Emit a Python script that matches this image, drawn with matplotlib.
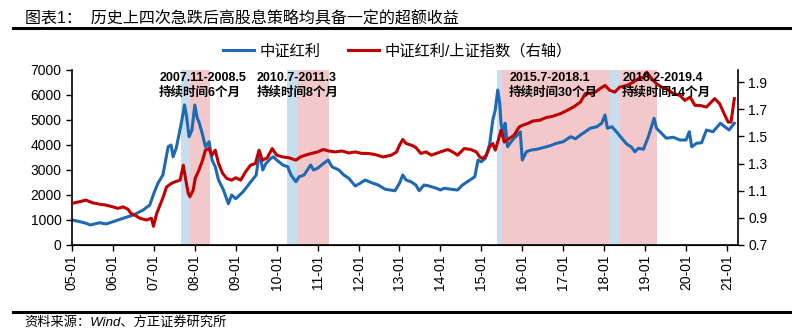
import matplotlib.pyplot as plt
from matplotlib import transforms

plt.rcParams['font.family'] = ['Liberation Sans', 'Noto Sans CJK SC']

# 中证红利 index (left axis), decimal years
div_t = [2005.00, 2005.20, 2005.34, 2005.45, 2005.67, 2005.83, 2006.00, 2006.25, 2006.50, 2006.74,
         2006.90, 2007.00, 2007.10, 2007.22, 2007.35, 2007.42, 2007.47, 2007.55, 2007.67, 2007.75,
         2007.80, 2007.86, 2007.93, 2008.00, 2008.06, 2008.10, 2008.18, 2008.26, 2008.35, 2008.42,
         2008.50, 2008.58, 2008.70, 2008.82, 2008.90, 2009.00, 2009.18, 2009.34, 2009.50, 2009.58,
         2009.66, 2009.74, 2009.86, 2009.92, 2010.00, 2010.15, 2010.27, 2010.35, 2010.47, 2010.55,
         2010.67, 2010.83, 2010.90, 2011.00, 2011.15, 2011.26, 2011.35, 2011.52, 2011.64, 2011.76,
         2011.92, 2012.04, 2012.16, 2012.32, 2012.48, 2012.65, 2012.89, 2013.00, 2013.08, 2013.16,
         2013.28, 2013.40, 2013.48, 2013.60, 2013.72, 2013.90, 2014.00, 2014.10, 2014.26, 2014.42,
         2014.54, 2014.66, 2014.84, 2014.92, 2015.00, 2015.10, 2015.20, 2015.28, 2015.34, 2015.40,
         2015.45, 2015.48, 2015.55, 2015.58, 2015.64, 2015.76, 2015.88, 2015.95, 2016.00, 2016.10,
         2016.22, 2016.36, 2016.52, 2016.68, 2016.84, 2017.00, 2017.18, 2017.30, 2017.42, 2017.54,
         2017.66, 2017.82, 2017.94, 2018.02, 2018.08, 2018.19, 2018.30, 2018.43, 2018.55, 2018.67,
         2018.75, 2018.84, 2018.96, 2019.08, 2019.22, 2019.28, 2019.40, 2019.52, 2019.69, 2019.85,
         2020.00, 2020.08, 2020.14, 2020.26, 2020.38, 2020.50, 2020.66, 2020.84, 2020.95, 2021.05,
         2021.18]
div_idx = [1000, 930, 870, 800, 890, 840, 930, 1070, 1200, 1400,
           1600, 2070, 2470, 2800, 3930, 4000, 3530, 3900, 4870, 5600,
           5130, 4330, 4600, 5600, 5070, 4930, 4470, 3930, 4130, 3400,
           3130, 2600, 2200, 1650, 2000, 1850, 2130, 2470, 2800, 3730,
           3000, 3270, 3470, 3530, 3400, 3200, 3130, 2800, 2530, 2730,
           2800, 3200, 3000, 3070, 3270, 3400, 3130, 3000, 2800, 2670,
           2360, 2470, 2600, 2490, 2400, 2230, 2170, 2470, 2800, 2600,
           2530, 2400, 2170, 2400, 2360, 2270, 2200, 2270, 2230, 2200,
           2400, 2530, 2730, 3400, 3330, 3470, 4000, 5000, 5400, 6200,
           5670, 4870, 4330, 4870, 3930, 4200, 4400, 4530, 3400, 3730,
           3800, 3830, 3900, 3970, 4070, 4130, 4330, 4250, 4400, 4530,
           4670, 4730, 4870, 5200, 4670, 4730, 4530, 4270, 4040, 3910,
           3730, 3870, 3830, 4330, 5070, 4670, 4470, 4270, 4310, 4200,
           4200, 4530, 3930, 4070, 4090, 4600, 4530, 4870, 4730, 4600,
           4870]

# 中证红利/上证指数 ratio (right axis)
ratio_t = [2005.00, 2005.17, 2005.34, 2005.50, 2005.67, 2005.83, 2006.00, 2006.12, 2006.25, 2006.37,
           2006.44, 2006.53, 2006.66, 2006.82, 2006.94, 2006.99, 2007.07, 2007.15, 2007.23, 2007.31,
           2007.43, 2007.51, 2007.64, 2007.72, 2007.78, 2007.84, 2007.88, 2007.96, 2008.01, 2008.10,
           2008.19, 2008.26, 2008.34, 2008.42, 2008.50, 2008.58, 2008.68, 2008.78, 2008.90, 2009.00,
           2009.12, 2009.24, 2009.36, 2009.48, 2009.57, 2009.65, 2009.77, 2009.89, 2010.00, 2010.15,
           2010.30, 2010.47, 2010.58, 2010.70, 2010.85, 2011.00, 2011.14, 2011.27, 2011.43, 2011.60,
           2011.76, 2011.92, 2012.08, 2012.24, 2012.40, 2012.60, 2012.80, 2012.93, 2013.00, 2013.08,
           2013.16, 2013.30, 2013.40, 2013.52, 2013.65, 2013.78, 2013.90, 2014.00, 2014.18, 2014.30,
           2014.42, 2014.58, 2014.74, 2014.88, 2014.96, 2015.04, 2015.12, 2015.20, 2015.28, 2015.34,
           2015.40, 2015.48, 2015.56, 2015.68, 2015.80, 2015.92, 2016.00, 2016.13, 2016.26, 2016.42,
           2016.58, 2016.74, 2016.94, 2017.10, 2017.25, 2017.42, 2017.54, 2017.66, 2017.78, 2017.90,
           2018.02, 2018.14, 2018.26, 2018.38, 2018.55, 2018.71, 2018.84, 2018.96, 2019.04, 2019.16,
           2019.28, 2019.40, 2019.52, 2019.69, 2019.85, 2019.97, 2020.10, 2020.22, 2020.34, 2020.50,
           2020.70, 2020.82, 2020.95, 2021.03, 2021.10, 2021.18]
ratio_val = [1.007, 1.018, 1.031, 1.011, 1.001, 0.994, 0.981, 0.970, 0.981, 0.963,
             0.933, 0.921, 0.897, 0.884, 0.897, 0.838, 0.933, 0.994, 1.055, 1.128,
             1.154, 1.165, 1.178, 1.288, 1.178, 1.081, 1.055, 1.104, 1.191, 1.251,
             1.325, 1.399, 1.411, 1.362, 1.399, 1.301, 1.228, 1.191, 1.178, 1.196,
             1.178, 1.239, 1.288, 1.301, 1.399, 1.325, 1.343, 1.411, 1.362, 1.349,
             1.343, 1.325, 1.349, 1.362, 1.375, 1.386, 1.404, 1.393, 1.386, 1.393,
             1.378, 1.386, 1.375, 1.375, 1.367, 1.349, 1.362, 1.386, 1.435, 1.478,
             1.448, 1.435, 1.419, 1.375, 1.386, 1.362, 1.375, 1.386, 1.404, 1.386,
             1.362, 1.411, 1.404, 1.386, 1.349, 1.338, 1.362, 1.422, 1.448, 1.399,
             1.459, 1.546, 1.459, 1.485, 1.509, 1.569, 1.582, 1.595, 1.614, 1.619,
             1.639, 1.649, 1.669, 1.693, 1.717, 1.753, 1.816, 1.816, 1.827, 1.853,
             1.876, 1.840, 1.827, 1.864, 1.876, 1.900, 1.926, 1.937, 1.974, 1.926,
             1.889, 1.864, 1.853, 1.816, 1.803, 1.766, 1.790, 1.729, 1.729, 1.717,
             1.779, 1.742, 1.656, 1.606, 1.606, 1.779]

# sharp-fall windows (blue) and the following high-dividend periods (red)
fall_spans = [(2007.67, 2007.88), (2010.25, 2010.49), (2015.38, 2015.50), (2018.12, 2018.39)]
hold_spans = [(2007.88, 2008.38), (2010.49, 2011.28), (2015.50, 2018.12), (2018.39, 2019.28)]
span_labels = ["2007.11-2008.5\n持续时间6个月", "2010.7-2011.3\n持续时间8个月",
               "2015.7-2018.1\n持续时间30个月", "2018.2-2019.4\n持续时间14个月"]
label_x = [2007.13, 2009.52, 2015.68, 2018.44]

years = list(range(2005, 2022))
year_labels = [f"{y % 100:02d}-01" for y in years]

BLUE = '#1f69b4'
RED = '#c00000'

fig = plt.figure(figsize=(8, 3.3), dpi=100)
ax = fig.add_axes([0.09, 0.2576, 0.8325, 0.5303])
ax2 = ax.twinx()

for a, b in fall_spans:
    ax.axvspan(a, b, color='#c6deee', lw=0, zorder=0)
for a, b in hold_spans:
    ax.axvspan(a, b, color='#f3c8cb', lw=0, zorder=0)

l1, = ax.plot(div_t, div_idx, color=BLUE, lw=2.2, zorder=2)
l2, = ax2.plot(ratio_t, ratio_val, color=RED, lw=2.2, zorder=2)

ax.set_xlim(2005, 2021.27)
ax.set_ylim(0, 7000)
ax.set_yticks(range(0, 7001, 1000))
ax2.set_ylim(0.7, 1.99)
ax2.set_yticks([0.7, 0.9, 1.1, 1.3, 1.5, 1.7, 1.9])
ax2.set_yticklabels([f"{v:.1f}" for v in [0.7, 0.9, 1.1, 1.3, 1.5, 1.7, 1.9]])
ax.set_xticks(years)
ax.set_xticklabels(year_labels, rotation=90)

for a in (ax, ax2):
    a.spines['top'].set_visible(False)
    a.tick_params(length=4, width=1, labelsize=10, colors='black')
ax.spines['right'].set_visible(False)
ax2.spines['left'].set_visible(False)
for s in ('left', 'bottom'):
    ax.spines[s].set_linewidth(1.2)
ax2.spines['right'].set_linewidth(1.2)
ax.tick_params(axis='x', labelsize=10, pad=3)

trans = transforms.blended_transform_factory(ax.transData, ax.transAxes)
for x, txt in zip(label_x, span_labels):
    ax2.text(x, 0.99, txt, transform=trans, ha='left', va='top', fontsize=9,
             fontweight='bold', linespacing=1.3, zorder=5)

fig.legend([l1, l2], ["中证红利", "中证红利/上证指数（右轴）"], loc='center',
           bbox_to_anchor=(0.497, 0.845), ncol=2, frameon=False, fontsize=11,
           handlelength=2.0, handletextpad=0.4, columnspacing=1.8)

fig.text(0.031, 0.945, "图表1：  历史上四次急跌后高股息策略均具备一定的超额收益",
         fontsize=11.5, va='center', ha='left')
fig.add_artist(plt.Line2D([0.016, 0.988], [0.915, 0.915], color='black', lw=2.2))
fig.add_artist(plt.Line2D([0.016, 0.988], [0.055, 0.055], color='black', lw=2.2))
fig.text(0.031, 0.024, "资料来源：Wind、方正证券研究所", fontsize=9.5, style='italic',
         va='center', ha='left')

fig.savefig('out.png', dpi=100)
